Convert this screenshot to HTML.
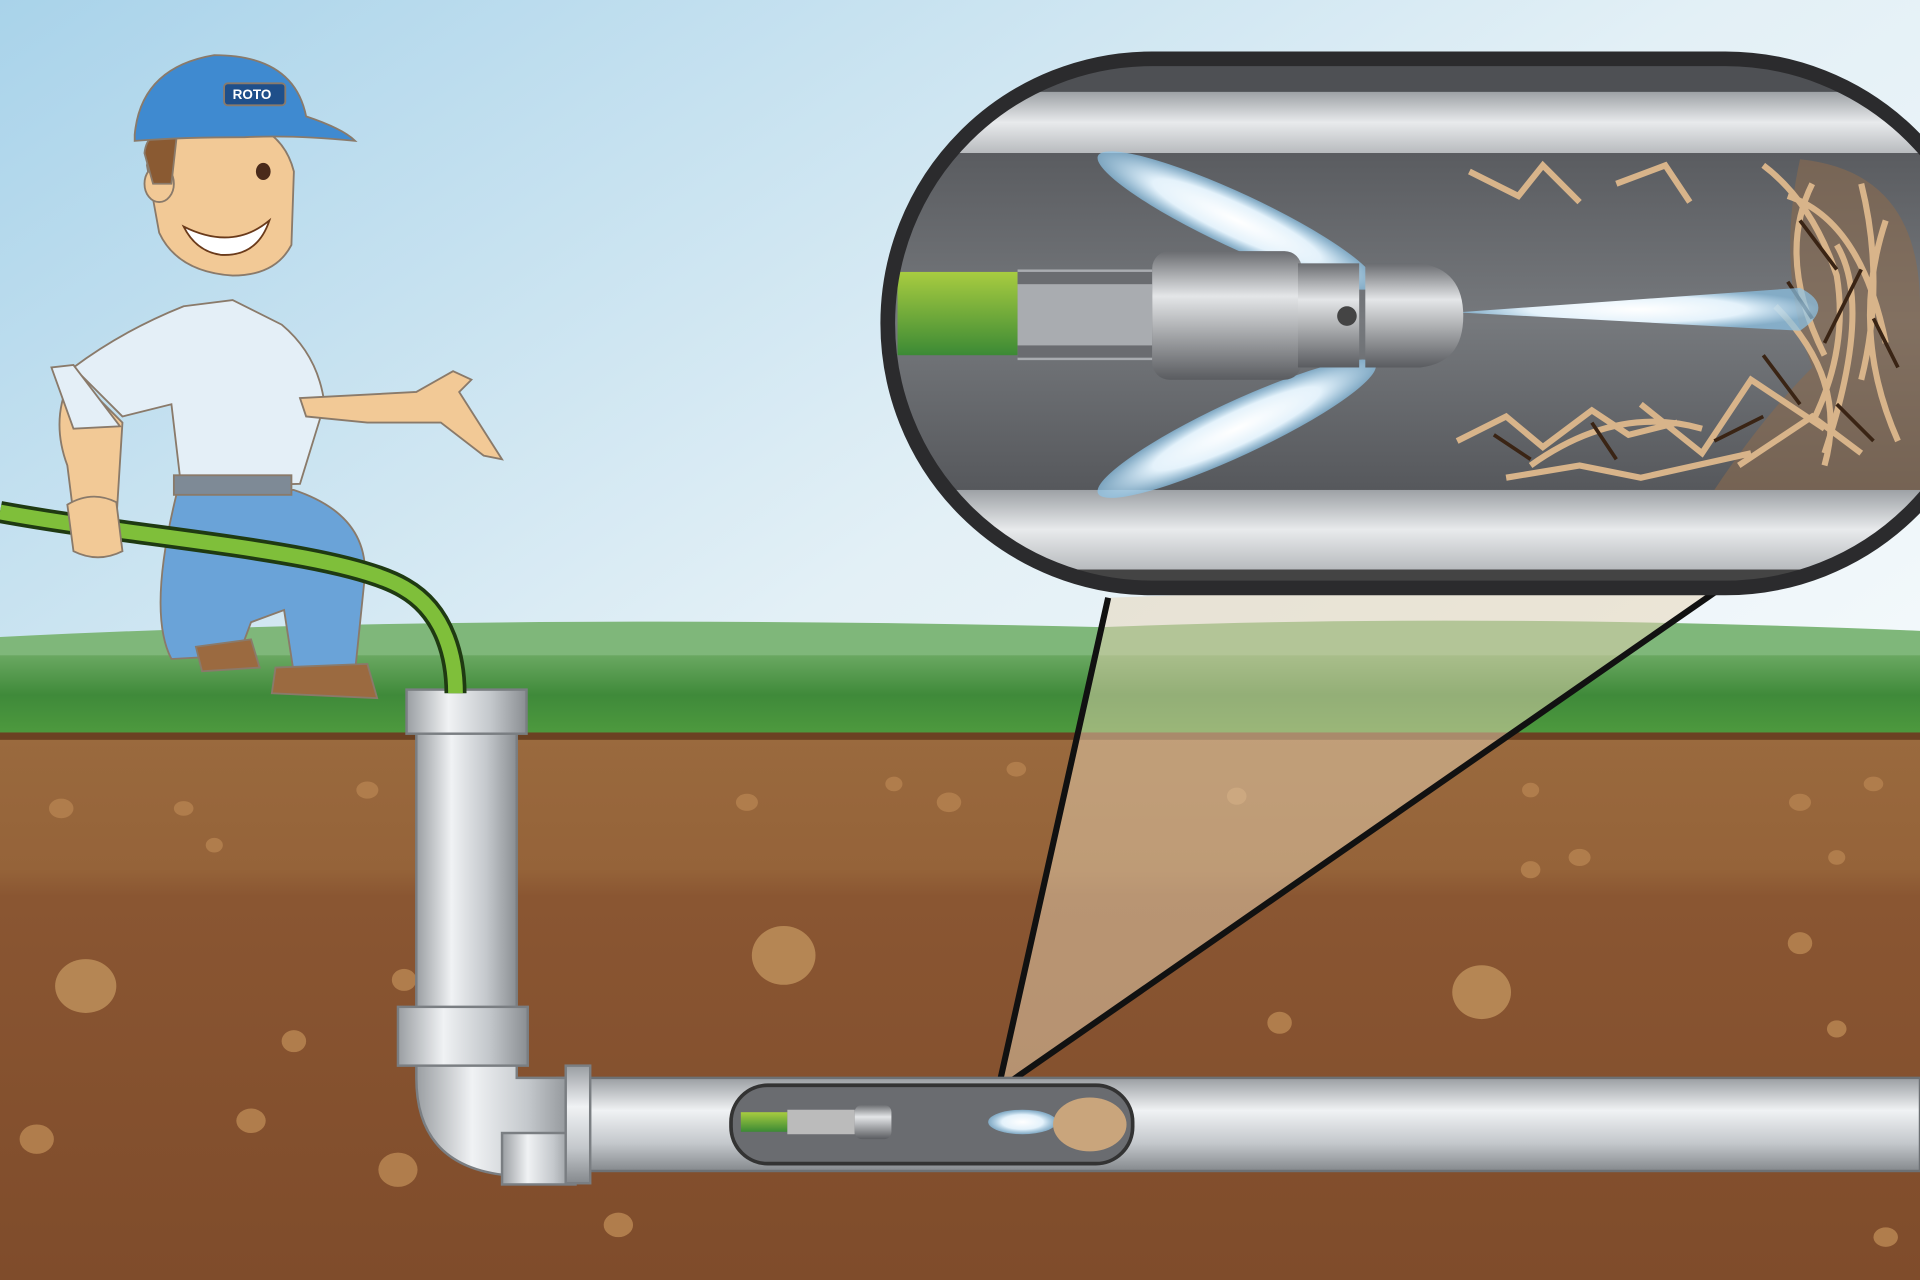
<!DOCTYPE html>
<html><head><meta charset="utf-8"><style>html,body{margin:0;padding:0;overflow:hidden;background:#fff}svg{display:block}</style></head>
<body>
<svg width="1920" height="1280" viewBox="0 0 1568 1045" preserveAspectRatio="none" xmlns="http://www.w3.org/2000/svg">
<defs>
<linearGradient id="sky" x1="0" y1="0" x2="1" y2="1"><stop offset="0" stop-color="#a9d3ea"/><stop offset="0.45" stop-color="#e3f0f6"/><stop offset="1" stop-color="#ffffff"/></linearGradient>
<linearGradient id="grass" x1="0" y1="0" x2="0" y2="1"><stop offset="0" stop-color="#6aa861"/><stop offset="0.5" stop-color="#3f8a3a"/><stop offset="1" stop-color="#4e9a3e"/></linearGradient>
<linearGradient id="soil" x1="0" y1="0" x2="0" y2="1"><stop offset="0" stop-color="#9a6a3e"/><stop offset="0.25" stop-color="#956339"/><stop offset="0.3" stop-color="#8a5632"/><stop offset="1" stop-color="#7f4c2b"/></linearGradient>
<linearGradient id="pipeV" x1="0" y1="0" x2="1" y2="0"><stop offset="0" stop-color="#9a9ea2"/><stop offset="0.35" stop-color="#f0f2f4"/><stop offset="0.7" stop-color="#c4c8cc"/><stop offset="1" stop-color="#8a8e92"/></linearGradient>
<linearGradient id="pipeH" x1="0" y1="0" x2="0" y2="1"><stop offset="0" stop-color="#9a9ea2"/><stop offset="0.35" stop-color="#f0f2f4"/><stop offset="0.7" stop-color="#c4c8cc"/><stop offset="1" stop-color="#85898d"/></linearGradient>
<linearGradient id="wall" x1="0" y1="0" x2="0" y2="1"><stop offset="0" stop-color="#9da1a5"/><stop offset="0.5" stop-color="#e8eaec"/><stop offset="1" stop-color="#b8bbbe"/></linearGradient>
<linearGradient id="inner" x1="0" y1="0" x2="0" y2="1"><stop offset="0" stop-color="#5a5c60"/><stop offset="0.5" stop-color="#76797d"/><stop offset="1" stop-color="#56585c"/></linearGradient>
<linearGradient id="green" x1="0" y1="0" x2="0" y2="1"><stop offset="0" stop-color="#a8cc40"/><stop offset="1" stop-color="#3c8a35"/></linearGradient>
<linearGradient id="metal" x1="0" y1="0" x2="0" y2="1"><stop offset="0" stop-color="#6a6c70"/><stop offset="0.35" stop-color="#e4e6e8"/><stop offset="1" stop-color="#5a5c60"/></linearGradient>
<radialGradient id="jet"><stop offset="0" stop-color="#ffffff"/><stop offset="0.6" stop-color="#e4f2fb"/><stop offset="1" stop-color="#8cc4e8" stop-opacity="0.7"/></radialGradient>
<clipPath id="lens"><rect x="725" y="48" width="900" height="432" rx="216"/></clipPath>
</defs>
<rect width="1568" height="1045" fill="url(#sky)"/>
<path d="M0 520 Q400 500 900 512 Q1200 500 1568 515 L1568 600 L0 600Z" fill="#7fb77a"/>
<rect y="535" width="1568" height="65" fill="url(#grass)"/>
<rect y="598" width="1568" height="447" fill="url(#soil)"/>
<rect y="598" width="1568" height="6" fill="#6b4122"/>
<g fill="#b07d4c">
<ellipse cx="50" cy="660" rx="10" ry="8"/><ellipse cx="150" cy="660" rx="8" ry="6"/><ellipse cx="300" cy="645" rx="9" ry="7"/><ellipse cx="175" cy="690" rx="7" ry="6"/><ellipse cx="610" cy="655" rx="9" ry="7"/><ellipse cx="730" cy="640" rx="7" ry="6"/><ellipse cx="775" cy="655" rx="10" ry="8"/><ellipse cx="830" cy="628" rx="8" ry="6"/><ellipse cx="1010" cy="650" rx="8" ry="7"/><ellipse cx="1250" cy="645" rx="7" ry="6"/><ellipse cx="1290" cy="700" rx="9" ry="7"/><ellipse cx="1470" cy="655" rx="9" ry="7"/><ellipse cx="1530" cy="640" rx="8" ry="6"/><ellipse cx="1250" cy="710" rx="8" ry="7"/><ellipse cx="1500" cy="700" rx="7" ry="6"/>
<ellipse cx="70" cy="805" rx="25" ry="22" fill="#b58654"/><ellipse cx="640" cy="780" rx="26" ry="24" fill="#b58654"/><ellipse cx="1210" cy="810" rx="24" ry="22" fill="#b58654"/><ellipse cx="1470" cy="770" rx="10" ry="9"/><ellipse cx="30" cy="930" rx="14" ry="12"/><ellipse cx="205" cy="915" rx="12" ry="10"/><ellipse cx="325" cy="955" rx="16" ry="14"/><ellipse cx="240" cy="850" rx="10" ry="9"/><ellipse cx="1045" cy="835" rx="10" ry="9"/><ellipse cx="1500" cy="840" rx="8" ry="7"/><ellipse cx="505" cy="1000" rx="12" ry="10"/><ellipse cx="1540" cy="1010" rx="10" ry="8"/><ellipse cx="330" cy="800" rx="10" ry="9"/>
</g>
<path d="M815 890 L905 488 L1420 470Z" fill="#e8d4b4" opacity="0.5"/>
<line x1="815" y1="890" x2="905" y2="488" stroke="#111" stroke-width="5"/>
<line x1="815" y1="890" x2="1420" y2="470" stroke="#111" stroke-width="5"/>
<rect x="455" y="880" width="1113" height="76" fill="url(#pipeH)"/>
<rect x="455" y="880" width="1113" height="76" fill="none" stroke="#6d7175" stroke-width="2"/>
<rect x="340" y="595" width="82" height="240" fill="url(#pipeV)" stroke="#7a7e82" stroke-width="2"/>
<rect x="332" y="563" width="98" height="36" fill="url(#pipeV)" stroke="#7a7e82" stroke-width="2"/>
<path d="M340 840 L422 840 L422 880 L470 880 L470 960 L420 960 Q340 955 340 880Z" fill="url(#pipeV)" stroke="#7a7e82" stroke-width="2"/>
<rect x="325" y="822" width="106" height="48" fill="url(#pipeV)" stroke="#7a7e82" stroke-width="2"/>
<rect x="410" y="925" width="60" height="42" fill="url(#pipeV)" stroke="#7a7e82" stroke-width="2"/>
<rect x="462" y="870" width="20" height="96" fill="url(#pipeH)" stroke="#7a7e82" stroke-width="2"/>
<rect x="597" y="886" width="328" height="64" rx="30" fill="#6a6c70" stroke="#333" stroke-width="3"/>
<rect x="605" y="908" width="38" height="16" fill="url(#green)"/>
<rect x="643" y="906" width="55" height="20" fill="#bbb"/>
<rect x="698" y="902" width="30" height="28" rx="6" fill="url(#metal)"/>
<ellipse cx="835" cy="916" rx="28" ry="10" fill="url(#jet)"/>
<ellipse cx="890" cy="918" rx="30" ry="22" fill="#c9a57c"/>
<!-- man -->
<g stroke="#8a7a6a" stroke-width="1.5">
<path d="M145 400 L240 400 Q300 420 298 470 L290 548 L240 550 L232 498 L205 508 L195 535 L140 538 Q120 500 145 400Z" fill="#6aa3d8"/>
<path d="M225 545 L300 542 L308 570 L222 566Z" fill="#9b6a40"/>
<path d="M160 528 L205 522 L212 545 L165 548Z" fill="#9b6a40"/>
<path d="M60 300 Q100 270 150 250 L190 245 L230 265 Q260 290 265 330 L245 395 L148 398 L140 330 L100 340 Z" fill="#e4eff7"/>
<rect x="142" y="388" width="96" height="16" fill="#7e8a96"/>
<path d="M60 305 Q40 340 55 380 L60 420 L95 425 L100 345 Z" fill="#f2c996"/>
<path d="M42 300 L60 298 L98 348 L60 350 Z" fill="#e4eff7"/>
<path d="M245 325 L340 320 L370 303 L385 310 L375 320 L410 375 L395 372 L360 345 L300 345 L250 340Z" fill="#f2c996"/>
<path d="M120 135 Q125 95 180 95 Q230 100 240 140 L238 200 Q225 225 190 225 Q145 222 130 190 Z" fill="#f2c996"/>
<ellipse cx="130" cy="150" rx="12" ry="15" fill="#f2c996"/>
<path d="M118 125 Q120 105 145 105 L140 150 L125 150Z" fill="#8a5a32"/>
<ellipse cx="215" cy="140" rx="6" ry="7" fill="#4a2a1a" stroke="none"/>
<path d="M150 185 Q190 205 220 180 Q210 210 180 208 Q160 205 150 185Z" fill="#fff" stroke="#6a3a1a"/>
<path d="M110 110 Q115 55 175 45 Q240 45 250 95 Q280 105 290 115 Q240 110 200 112 Q150 112 110 115Z" fill="#3f8ad0"/>
<rect x="183" y="68" width="50" height="18" rx="3" fill="#1f4f8a"/>
</g>
<text x="190" y="81" font-family="Liberation Sans, sans-serif" font-size="11" font-weight="bold" fill="#fff">ROTO</text>
<!-- hose (in front of man) -->
<path d="M0 418 C120 440 280 450 330 480 C365 500 372 540 372 566" fill="none" stroke="#1f3a12" stroke-width="18"/>
<path d="M0 418 C120 440 280 450 330 480 C365 500 372 540 372 566" fill="none" stroke="#7fbf3a" stroke-width="12"/>
<path d="M55 412 Q75 400 95 410 L100 450 Q80 460 60 450Z" fill="#f2c996" stroke="#8a7a6a" stroke-width="1.5"/>
<!-- lens -->
<g clip-path="url(#lens)">
<rect x="725" y="48" width="900" height="432" fill="#4e5054"/>
<rect x="725" y="75" width="900" height="50" fill="url(#wall)"/>
<rect x="725" y="125" width="900" height="275" fill="url(#inner)"/>
<rect x="725" y="400" width="900" height="65" fill="url(#wall)"/>
<rect x="725" y="465" width="900" height="20" fill="#444"/>
<path d="M1470 130 Q1568 140 1568 250 L1568 400 L1400 400 Q1440 340 1480 300 Q1450 220 1470 130Z" fill="#8a6a4e" opacity="0.6"/>
<g stroke="#d8b48a" stroke-width="5" fill="none">
<path d="M1200 140 l40 20 l20 -25 l30 30 M1320 150 l40 -15 l20 30 M1440 135 q40 30 60 90 q10 60 -20 120 M1460 160 q60 20 80 120 M1480 150 q-30 60 10 140 M1500 200 q30 50 -10 170 M1190 360 l40 -20 l30 25 l40 -30 l30 20 l40 -10 M1250 380 q70 -50 140 -30 M1340 330 l50 40 l40 -60 l60 40 M1450 250 q60 60 40 130 M1230 390 l60 -10 l50 10 l90 -20 M1520 150 q20 80 0 160 M1540 180 q-30 90 10 180 M1420 380 l60 -40 l40 30"/>
</g>
<g stroke="#3a2414" stroke-width="3" fill="none">
<path d="M1470 180 l30 40 M1520 220 l-30 60 M1440 290 l30 40 M1220 355 l30 20 M1300 345 l20 30 M1400 360 l40 -20 M1500 330 l30 30 M1530 260 l20 40 M1460 230 l20 30"/>
</g>
<ellipse cx="1010" cy="180" rx="125" ry="22" transform="rotate(25 1010 180)" fill="url(#jet)"/>
<ellipse cx="1010" cy="350" rx="125" ry="22" transform="rotate(-25 1010 350)" fill="url(#jet)"/>
<path d="M1190 255 L1470 235 Q1500 250 1470 270 Z" fill="url(#jet)"/>
<rect x="733" y="222" width="98" height="68" fill="url(#green)"/>
<rect x="831" y="220" width="110" height="74" fill="#a9acb0"/>
<rect x="831" y="222" width="110" height="10" fill="#6a6c70"/>
<rect x="831" y="282" width="110" height="10" fill="#6a6c70"/>
<rect x="941" y="205" width="122" height="105" rx="14" fill="url(#metal)"/>
<rect x="1060" y="215" width="50" height="85" fill="url(#metal)"/>
<path d="M1115 215 L1160 215 Q1195 220 1195 258 Q1195 296 1160 300 L1115 300Z" fill="url(#metal)"/>
<circle cx="1100" cy="258" r="8" fill="#444"/>
</g>
<rect x="725" y="48" width="900" height="432" rx="216" fill="none" stroke="#2b2b2d" stroke-width="12"/>
</svg>
</body></html>
